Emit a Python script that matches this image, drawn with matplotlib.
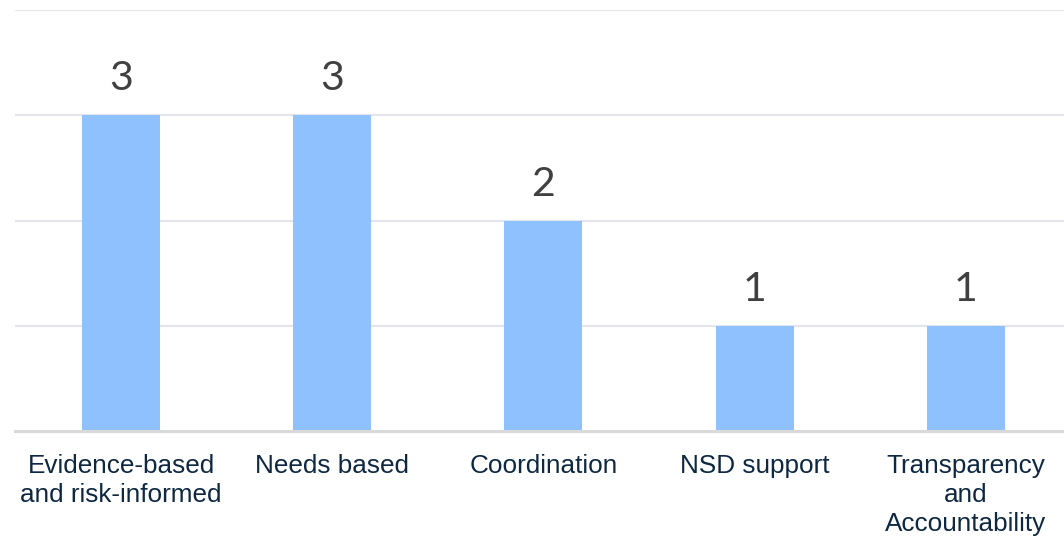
import matplotlib
matplotlib.use("Agg")
import matplotlib.pyplot as plt

categories = ["Evidence-based\nand risk-informed", "Needs based", "Coordination",
              "NSD support", "Transparency\nand\nAccountability"]
counts = [3, 3, 2, 1, 1]
y_ticks = [1, 2, 3, 4]

W, H = 1064, 542
fig = plt.figure(figsize=(W / 100, H / 100), dpi=100)
left_px, right_px, top_px, bottom_px = 15.4, 1071.4, 10, 431
ax = fig.add_axes([left_px / W, 1 - bottom_px / H,
                   (right_px - left_px) / W, (bottom_px - top_px) / H])

x = list(range(len(categories)))
ax.bar(x, counts, width=0.37, color="#90C1FF", zorder=3)

ax.set_xlim(-0.5, len(categories) - 0.5)
ax.set_ylim(0, 4)
ax.set_yticks(y_ticks)
for y in y_ticks:
    ax.axhline(y, color="#E4E4EC", linewidth=1.5, zorder=1)
ax.axhline(0, color="#D9D9D9", linewidth=2.2, zorder=4, clip_on=False)

for spine in ax.spines.values():
    spine.set_visible(False)
ax.tick_params(axis="y", left=False, labelleft=False)
ax.tick_params(axis="x", bottom=False, pad=13)
ax.set_xticks(x)
ax.set_xticklabels(categories, fontsize=18.8, color="#0E2841",
                   fontfamily="Liberation Sans", linespacing=1.27)

for xi, v in zip(x, counts):
    ax.annotate(str(v), (xi, v), xytext=(0, 18), textcoords="offset points",
                ha="center", va="baseline", fontsize=29.5, color="#404040",
                fontfamily="Lato")

fig.savefig("out.png", dpi=100)
